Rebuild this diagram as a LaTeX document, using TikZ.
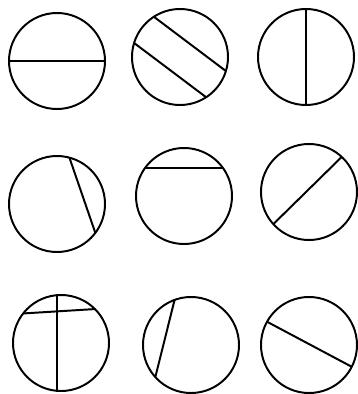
\documentclass[tikz,border=0pt]{standalone}
\usetikzlibrary{calc}
\tikzset{disc/.style={draw=black,line width=1.4pt}, chord/.style={draw=black,line width=1.4pt}}

\begin{document}
\begin{tikzpicture}[x=0.25mm,y=-0.25mm]
\useasboundingbox (0,0) rectangle (357,394);
% centres of the nine circles
\coordinate (c1) at (57,61);
\coordinate (c2) at (180,57);
\coordinate (c3) at (306,57);
\coordinate (c4) at (57,204);
\coordinate (c5) at (184,196);
\coordinate (c6) at (309,192);
\coordinate (c7) at (61,343);
\coordinate (c8) at (191,345);
\coordinate (c9) at (309,345);
\foreach \c in {c1,c2,c3,c4,c5,c6,c7,c8,c9}
  \draw[disc] (\c) circle[radius=48];
% chords, given by the angles of their ends
\foreach \c/\a/\b in {c1/180/0, c2/-123/17, c2/57/197, c3/-90/90,
    c4/-75/37, c5/-144/-36, c6/-47/138,
    c7/-95/95, c7/-142/-45, c8/-110/138, c9/-151/27}
  \draw[chord] (\c) +(\a:48) -- +(\b:48);
\end{tikzpicture}
\end{document}
